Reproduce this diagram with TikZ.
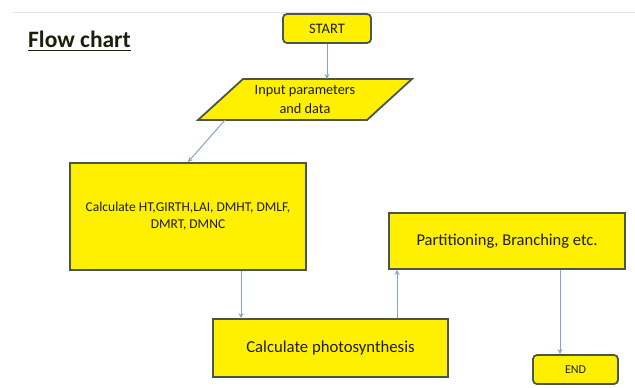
\documentclass[tikz,border=0pt]{standalone}
\usepackage{fontspec}
\setmainfont{Carlito}
\usetikzlibrary{arrows.meta}
\definecolor{boxfill}{RGB}{255,240,0}
\definecolor{boxline}{RGB}{72,86,76}
\definecolor{arrowc}{RGB}{140,160,200}
\definecolor{txt}{RGB}{30,30,10}
\tikzset{
  box/.style={draw=boxline, line width=1.8pt, fill=boxfill, text=txt, inner sep=0pt, align=center},
  term/.style={box, rounded corners=4pt},
  conn/.style={draw=arrowc, line width=1pt, -{Stealth[length=5pt,width=5pt]}},
  lbl/.style={text=txt, inner sep=0pt, align=center}
}
\begin{document}
\begin{tikzpicture}[x=1pt,y=-1pt]
\useasboundingbox (0,0) rectangle (635,388);
\draw[black!10, line width=0.8pt] (13,12) -- (635,12);
% title
\node[lbl, anchor=base west, font=\bfseries\fontsize{23.5}{26}\selectfont] (title) at (28,47) {Flow chart};
\draw[txt, line width=1.2pt] ([yshift=-3.5pt]title.base west) -- ([yshift=-3.5pt]title.base east);
% START
\node[term, minimum width=88pt, minimum height=29pt, font=\fontsize{14.5}{16}\selectfont] (start) at (327,28.5) {START};
% parallelogram
\coordinate (p1) at (243,79);
\coordinate (p2) at (412,79);
\coordinate (p3) at (367,120);
\coordinate (p4) at (198,120);
\draw[boxline, line width=1.8pt, fill=boxfill, line join=miter] (p1) -- (p2) -- (p3) -- (p4) -- cycle;
\node[lbl, font=\fontsize{14.3}{18.5}\selectfont] (input) at (305,99.5) {Input parameters\\and data};
\coordinate (intop) at (327,79);
\coordinate (inbot) at (225,120);
% boxes
\node[box, minimum width=236pt, minimum height=107pt, font=\fontsize{13.5}{17}\selectfont] (calc) at (188,216.5) {Calculate HT,GIRTH,LAI, DMHT, DMLF,\\DMRT, DMNC};
\node[box, minimum width=236pt, minimum height=56pt, font=\fontsize{16.5}{19}\selectfont] (part) at (507,241) {Partitioning, Branching etc.};
\node[box, minimum width=235pt, minimum height=58pt, font=\fontsize{16.7}{19}\selectfont] (photo) at (330.5,348) {Calculate photosynthesis};
\node[term, minimum width=85pt, minimum height=29pt, font=\fontsize{12}{14}\selectfont] (end) at (575.5,369.5) {END};
% connectors
\draw[conn] (start.south) -- (intop);
\draw[conn] (inbot) -- (calc.north);
\draw[conn] (calc.south -| 241,0) -- (photo.north -| 241,0);
\draw[conn] (photo.north -| 397,0) -- (part.south -| 397,0);
\draw[conn] (part.south -| 560,0) -- (end.north -| 560,0);
\end{tikzpicture}
\end{document}
